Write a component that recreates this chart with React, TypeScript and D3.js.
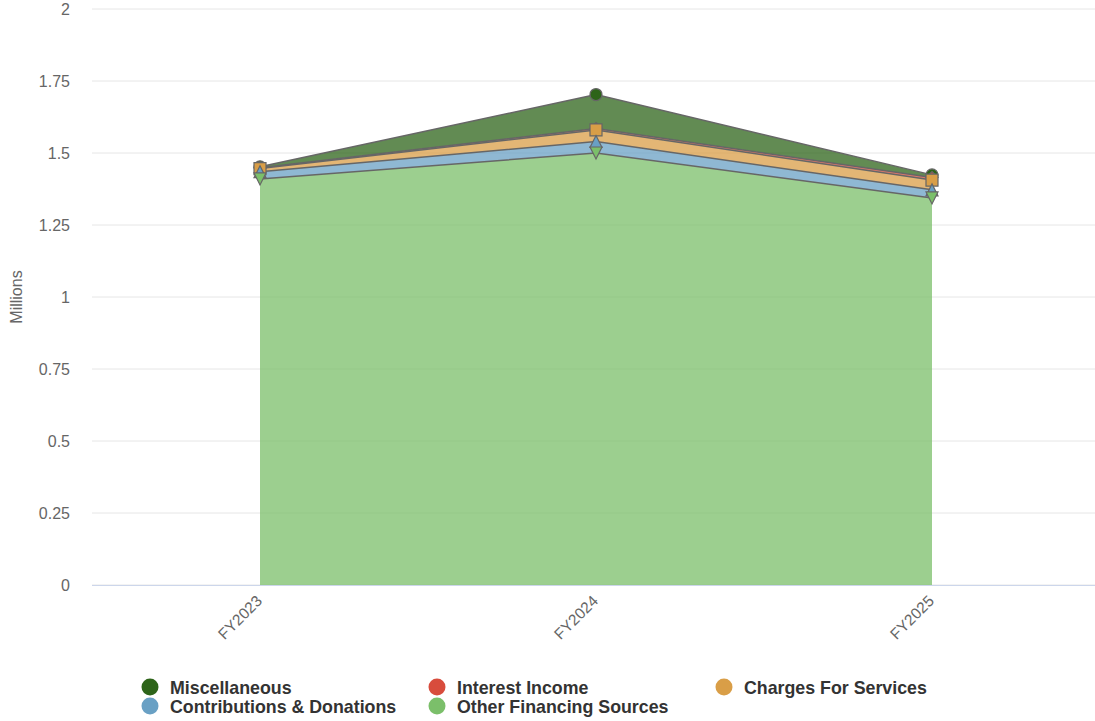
import React from "react";
import * as d3 from "d3";

const categories = ["FY2023", "FY2024", "FY2025"];
const seriesNames = [
  "Miscellaneous",
  "Interest Income",
  "Charges For Services",
  "Contributions & Donations",
  "Other Financing Sources",
];
const seriesColors = ["#2d6419", "#d84c3c", "#d99e47", "#69a0c4", "#7bbf6a"];
const seriesSymbols = ["circle", "diamond", "square", "triangle", "triangleDown"];
// values in millions, stacked bottom-up: Other, Contributions, Charges, Interest, Misc
const miscellaneous = [0.003, 0.118, 0.009];
const interestIncome = [0.003, 0.005, 0.009];
const chargesForServices = [0.011, 0.04, 0.034];
const contributions = [0.025, 0.04, 0.028];
const otherFinancing = [1.41, 1.5, 1.344];
const yTicks = [0, 0.25, 0.5, 0.75, 1, 1.25, 1.5, 1.75, 2];

const W = 1095;
const H = 721;
const FONT = '"Liberation Sans", Arial, Helvetica, sans-serif';

function symbolPath(kind: string, r: number): string {
  switch (kind) {
    case "circle":
      return `M ${-r} 0 A ${r} ${r} 0 1 0 ${r} 0 A ${r} ${r} 0 1 0 ${-r} 0 Z`;
    case "diamond":
      return `M 0 ${-r} L ${r} 0 L 0 ${r} L ${-r} 0 Z`;
    case "square":
      return `M ${-r} ${-r} L ${r} ${-r} L ${r} ${r} L ${-r} ${r} Z`;
    case "triangle":
      return `M 0 ${-r} L ${r} ${r} L ${-r} ${r} Z`;
    default:
      return `M ${-r} ${-r} L ${r} ${-r} L 0 ${r} Z`;
  }
}

export default function App() {
  const x = d3.scalePoint<string>().domain(categories).range([92, 1100]).padding(0.5);
  const y = d3.scaleLinear().domain([0, 2]).range([585, 9]);

  const valuesBySeries = [miscellaneous, interestIncome, chargesForServices, contributions, otherFinancing];
  const rows = categories.map((c, i) => {
    const row: any = { cat: c };
    seriesNames.forEach((n, s) => (row[n] = valuesBySeries[s][i]));
    return row;
  });
  const stack = d3.stack<any>().keys([...seriesNames].reverse());
  const stacked = stack(rows);
  const layerOf = (name: string) => stacked.find((l) => l.key === name)!;

  const area = d3
    .area<any>()
    .x((d: any) => x(d.data.cat)!)
    .y0((d: any) => y(d[0]))
    .y1((d: any) => y(d[1]));
  const line = d3
    .line<any>()
    .x((d: any) => x(d.data.cat)!)
    .y((d: any) => y(d[1]));

  const legendCols = [150, 437, 724];
  const legendRows = [688, 707];

  return (
    <svg
      width={W}
      height={H}
      style={{ position: "fixed", left: 0, top: 0, background: "#fff" }}
      fontFamily={FONT}
    >
      {yTicks.map((t) => (
        <g key={t}>
          <line x1={92} x2={W} y1={y(t)} y2={y(t)} stroke="#e6e6e6" strokeWidth={1} />
          <text x={70} y={y(t) + 5.5} textAnchor="end" fontSize={16} fill="#666">
            {t}
          </text>
        </g>
      ))}
      <text
        transform={`translate(22, ${y(1)}) rotate(-90)`}
        textAnchor="middle"
        fontSize={16}
        fill="#666"
      >
        Millions
      </text>

      {seriesNames.map((n, s) => (
        <path
          key={"a" + n}
          d={area(layerOf(n) as any)!}
          fill={seriesColors[s]}
          fillOpacity={0.75}
          stroke="none"
        />
      ))}
      {seriesNames.map((n) => (
        <path key={"l" + n} d={line(layerOf(n) as any)!} fill="none" stroke="#666" strokeWidth={1.5} />
      ))}
      <line x1={92} x2={W} y1={y(0) + 0.5} y2={y(0) + 0.5} stroke="#ccd6eb" strokeWidth={1} />

      {seriesNames.map((n, s) =>
        (layerOf(n) as any).map((d: any, i: number) => (
          <path
            key={"m" + n + i}
            transform={`translate(${x(d.data.cat)}, ${y(d[1])})`}
            d={symbolPath(seriesSymbols[s], 6)}
            fill={seriesColors[s]}
            stroke="#666"
            strokeWidth={1.2}
          />
        ))
      )}

      {categories.map((c) => (
        <text
          key={c}
          transform={`translate(${x(c)! + 3}, ${602}) rotate(-45)`}
          textAnchor="end"
          fontSize={15.5}
          fill="#666"
        >
          {c}
        </text>
      ))}

      {seriesNames.map((n, s) => {
        const cx = legendCols[s % 3];
        const cy = legendRows[Math.floor(s / 3)];
        return (
          <g key={"lg" + n}>
            <circle cx={cx} cy={cy - 1} r={8.5} fill={seriesColors[s]} />
            <text x={cx + 20} y={cy + 6} fontSize={17.8} fontWeight="bold" fill="#333">
              {n}
            </text>
          </g>
        );
      })}
    </svg>
  );
}
